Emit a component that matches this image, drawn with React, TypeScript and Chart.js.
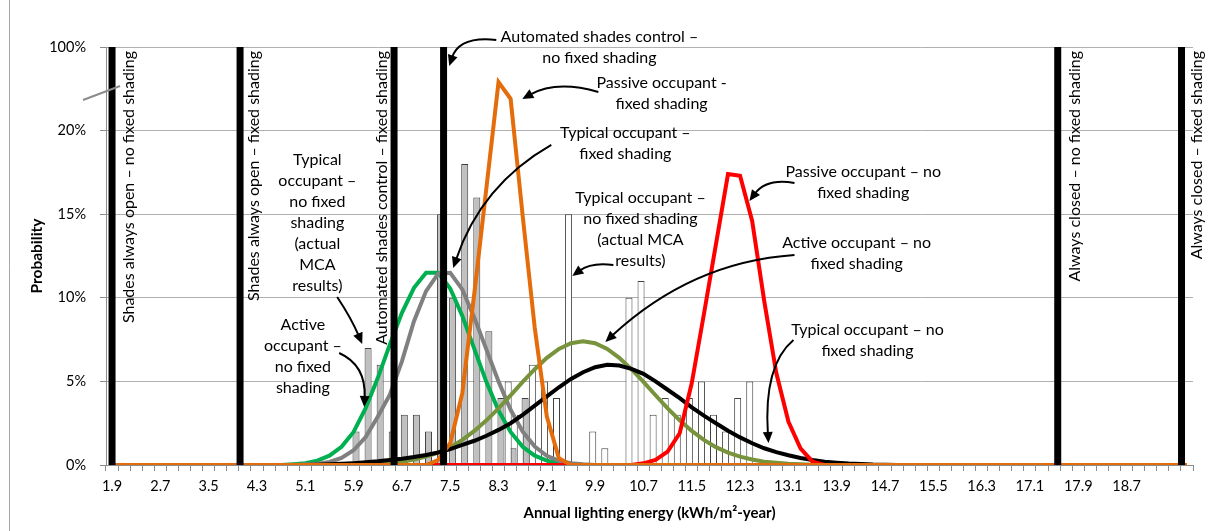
import React, { useEffect, useRef } from "react";
import { Chart, registerables } from "chart.js";

Chart.register(...registerables);

// ---------- DATA ----------
// Annual lighting energy bins (kWh/m²-year)
const energyBins = [
  "1.9", "2.1", "2.3", "2.5", "2.7", "2.9", "3.1", "3.3", "3.5", "3.7",
  "3.9", "4.1", "4.3", "4.5", "4.7", "4.9", "5.1", "5.3", "5.5", "5.7",
  "5.9", "6.1", "6.3", "6.5", "6.7", "6.9", "7.1", "7.3", "7.5", "7.7",
  "7.9", "8.1", "8.3", "8.5", "8.7", "8.9", "9.1", "9.3", "9.5", "9.7",
  "9.9", "10.1", "10.3", "10.5", "10.7", "10.9", "11.1", "11.3", "11.5", "11.7",
  "11.9", "12.1", "12.3", "12.5", "12.7", "12.9", "13.1", "13.3", "13.5", "13.7",
  "13.9", "14.1", "14.3", "14.5", "14.7", "14.9", "15.1", "15.3", "15.5", "15.7",
  "15.9", "16.1", "16.3", "16.5", "16.7", "16.9", "17.1", "17.3", "17.5", "17.7",
  "17.9", "18.1", "18.3", "18.5", "18.7", "18.9", "19.1", "19.3", "19.5", "19.7",
];
const xTickLabels = [
  "1.9", "2.7", "3.5", "4.3", "5.1", "5.9", "6.7", "7.5", "8.3", "9.1", "9.9",
  "10.7", "11.5", "12.3", "13.1", "13.9", "14.7", "15.5", "16.3", "17.1", "17.9", "18.7",
];
const yTickLabels = ["0%", "5%", "10%", "15%", "20%", "100%"];

// MCA histograms (probability, %)
const typicalFixedMcaStart = "5.9";
const typicalFixedMca = [2, 7, 6, 2, 3, 3, 2, 15, 10, 18, 16, 8, 4, 1, 4];
const typicalNoFixedMcaStart = "8.5";
const typicalNoFixedMca = [5, 3, 6, 5, 4, 15, 0, 2, 1, 0, 10, 11, 3, 4, 3, 4, 5, 3, 2, 4, 5];

// Fitted distributions (probability, %)
const activeFixedStart = "4.9"; // green
const activeFixed = [0.05, 0.11, 0.26, 0.56, 1.09, 1.98, 3.4, 5.2, 7.2, 9.1, 10.6, 11.5, 11.5, 10.56, 8.92, 6.93, 4.96, 3.26, 1.98, 1.09, 0.56, 0.26, 0.11, 0.05];
const typicalFixedStart = "5.1"; // gray
const typicalFixed = [0.03, 0.07, 0.18, 0.42, 0.88, 1.67, 2.89, 4.2, 6.2, 8.6, 10.4, 11.45, 11.5, 10.5, 8.8, 6.9, 5.0, 3.3, 2.0, 1.1, 0.55, 0.25, 0.1, 0.04];
const passiveFixedStart = "7.1"; // orange
const passiveFixed = [0, 0.3, 1.3, 4.3, 10.3, 16.6, 22.9, 21.9, 14.9, 8.2, 2.9, 0.4, 0];
const activeNoFixedStart = "5.5"; // olive
const activeNoFixed = [0.01, 0.01, 0.02, 0.04, 0.07, 0.13, 0.2, 0.33, 0.5, 0.74, 1.07, 1.5, 2.04, 2.67, 3.39, 4.17, 4.97, 5.73, 6.41, 6.94, 7.28, 7.4, 7.28, 6.94, 6.41, 5.73, 4.97, 4.17, 3.39, 2.67, 2.04, 1.5, 1.07, 0.74, 0.5, 0.33, 0.2, 0.13, 0.07, 0.04, 0.02];
const typicalNoFixedStart = "5.3"; // black
const typicalNoFixed = [0.02, 0.04, 0.07, 0.11, 0.16, 0.22, 0.3, 0.38, 0.48, 0.6, 0.75, 0.95, 1.2, 1.45, 1.75, 2.1, 2.5, 3.0, 3.55, 4.1, 4.65, 5.15, 5.55, 5.85, 6.0, 5.95, 5.75, 5.45, 5.0, 4.5, 4.0, 3.45, 2.95, 2.5, 2.05, 1.65, 1.3, 1.0, 0.77, 0.58, 0.42, 0.3, 0.2, 0.14, 0.09, 0.06, 0.03, 0.02];
const passiveNoFixedStart = "10.5"; // red
const passiveNoFixed = [0, 0.1, 0.3, 0.8, 1.9, 4.9, 9.0, 13.2, 17.4, 17.3, 14.6, 9.8, 5.5, 2.6, 1.0, 0.2, 0];

// Deterministic cases (100% probability)
const caseNames = [
  "Shades always open – no fixed shading",
  "Shades always open – fixed shading",
  "Automated shades control – fixed shading",
  "Automated shades control – no fixed shading",
  "Always closed – no fixed shading",
  "Always closed – fixed shading",
];
const caseEnergy = [1.9, 4.02, 6.57, 7.39, 17.56, 19.61];

// ---------- ANNOTATION LAYOUT (in data units) ----------
const caseLabelX = [2.18, 4.25, 6.36, null, 17.84, 19.86];
const caseLabelTop = 24.76;

const callouts = [
  { x: 9.97, y: 25.6, lines: ["Automated shades control –", "no fixed shading"] },
  { x: 11.0, y: 22.85, lines: ["Passive occupant -", "fixed shading"] },
  { x: 10.4, y: 19.86, lines: ["Typical occupant –", "fixed shading"] },
  { x: 5.3, y: 18.24, lines: ["Typical", "occupant –", "no fixed", "shading", "(actual", "MCA", "results)"] },
  { x: 5.06, y: 8.37, lines: ["Active", "occupant –", "no fixed", "shading"] },
  { x: 10.65, y: 15.97, lines: ["Typical occupant –", "no fixed shading", "(actual MCA", "results)"] },
  { x: 14.34, y: 17.52, lines: ["Passive occupant – no", "fixed shading"] },
  { x: 14.23, y: 13.28, lines: ["Active occupant – no", "fixed shading"] },
  { x: 14.41, y: 8.07, lines: ["Typical occupant – no", "fixed shading"] },
];

const arrows = [
  { from: [8.263, 25.42], ctrl: [7.65, 25.66], to: [7.484, 23.86] },
  { from: [9.953, 22.31], ctrl: [9.257, 23.03], to: [8.694, 21.89] },
  { from: [9.174, 19.14], ctrl: [8.014, 16.75], to: [7.55, 11.78] },
  { from: [5.628, 10.05], ctrl: [5.86, 8.79], to: [6.043, 7.24] },
  { from: [5.661, 6.7], ctrl: [6.109, 5.98], to: [6.076, 3.47] },
  { from: [10.202, 11.96], ctrl: [9.837, 12.14], to: [9.522, 11.3] },
  { from: [13.201, 16.87], ctrl: [12.737, 17.17], to: [12.455, 15.79] },
  { from: [13.201, 12.56], ctrl: [11.494, 12.14], to: [10.069, 7.36] },
  { from: [13.184, 7.48], ctrl: [12.687, 5.98], to: [12.77, 1.32] },
];

const FONT = "Lato, 'Open Sans', sans-serif";

// ---------- HELPERS ----------
function fullCurve(start: string, values: number[]) {
  const s = energyBins.indexOf(start);
  return energyBins.map((b, i) => ({
    x: parseFloat(b),
    y: i >= s && i < s + values.length ? values[i - s] : 0,
  }));
}
function barPoints(start: string, values: number[]) {
  const s = energyBins.indexOf(start);
  return values
    .map((v, i) => ({ x: parseFloat(energyBins[s + i]), y: v }))
    .filter((p) => p.y > 0);
}

const calloutPlugin = {
  id: "callouts",
  afterDatasetsDraw(chart: any) {
    const { ctx } = chart;
    const xs = chart.scales.x;
    const ys = chart.scales.y;
    const X = (v: number) => xs.getPixelForValue(v);
    const Y = (p: number) => ys.getPixelForValue(p);
    ctx.save();

    // outer frame edge on the left
    ctx.strokeStyle = "#a6a6a6";
    ctx.lineWidth = 1;
    ctx.beginPath();
    ctx.moveTo(9.5, 0);
    ctx.lineTo(9.5, chart.height);
    ctx.stroke();

    // stray grey connector near the top-left
    ctx.strokeStyle = "#8c8c8c";
    ctx.lineWidth = 2;
    ctx.beginPath();
    ctx.moveTo(X(1.42), Y(21.83));
    ctx.lineTo(X(2.033), Y(22.67));
    ctx.stroke();

    ctx.fillStyle = "#000";
    ctx.font = `16px ${FONT}`;

    // rotated labels next to the deterministic cases
    caseLabelX.forEach((lx, i) => {
      if (lx === null) return;
      ctx.save();
      ctx.translate(X(lx), Y(caseLabelTop));
      ctx.rotate(-Math.PI / 2);
      ctx.textAlign = "right";
      ctx.textBaseline = "middle";
      ctx.fillText(caseNames[i], 0, 0);
      ctx.restore();
    });

    // text callouts
    ctx.textAlign = "center";
    ctx.textBaseline = "middle";
    callouts.forEach((c) => {
      c.lines.forEach((line, i) => {
        ctx.fillText(line, X(c.x), Y(c.y) + i * 21);
      });
    });

    // arrows
    ctx.strokeStyle = "#000";
    ctx.fillStyle = "#000";
    ctx.lineWidth = 2;
    arrows.forEach((a) => {
      const x0 = X(a.from[0]), y0 = Y(a.from[1]);
      const cx = X(a.ctrl[0]), cy = Y(a.ctrl[1]);
      const x1 = X(a.to[0]), y1 = Y(a.to[1]);
      const ang = Math.atan2(y1 - cy, x1 - cx);
      const L = 11, W = 5;
      const bx = x1 - (L - 2) * Math.cos(ang);
      const by = y1 - (L - 2) * Math.sin(ang);
      ctx.beginPath();
      ctx.moveTo(x0, y0);
      ctx.quadraticCurveTo(cx, cy, bx, by);
      ctx.stroke();
      ctx.beginPath();
      ctx.moveTo(x1, y1);
      ctx.lineTo(x1 - L * Math.cos(ang) + W * Math.sin(ang), y1 - L * Math.sin(ang) - W * Math.cos(ang));
      ctx.lineTo(x1 - L * Math.cos(ang) - W * Math.sin(ang), y1 - L * Math.sin(ang) + W * Math.cos(ang));
      ctx.closePath();
      ctx.fill();
    });

    ctx.restore();
  },
};

export default function App() {
  const canvasRef = useRef<HTMLCanvasElement | null>(null);

  useEffect(() => {
    document.body.style.margin = "0";
    const canvas = canvasRef.current;
    if (!canvas) return;

    const curve = (data: any, color: string, order: number, width = 4) => ({
      type: "line",
      data,
      borderColor: color,
      borderWidth: width,
      pointRadius: 0,
      fill: false,
      tension: 0,
      order,
    });

    const datasets: any[] = [
      ...caseEnergy.map((e) => ({
        type: "line",
        data: [
          { x: e, y: 0 },
          { x: e, y: 25 },
        ],
        borderColor: "#000",
        borderWidth: 7,
        pointRadius: 0,
        fill: false,
        order: 1,
      })),
      curve(fullCurve(passiveFixedStart, passiveFixed), "#e46c0a", 2),
      curve(fullCurve(passiveNoFixedStart, passiveNoFixed), "#ff0000", 3),
      curve(fullCurve(typicalNoFixedStart, typicalNoFixed), "#000000", 4),
      curve(fullCurve(activeNoFixedStart, activeNoFixed), "#77933c", 5),
      curve(fullCurve(typicalFixedStart, typicalFixed), "#808080", 6),
      curve(fullCurve(activeFixedStart, activeFixed), "#00b050", 7),
      {
        type: "bar",
        data: barPoints(typicalNoFixedMcaStart, typicalNoFixedMca),
        backgroundColor: "#ffffff",
        borderColor: "#404040",
        borderWidth: 1,
        categoryPercentage: 0.8,
        barPercentage: 1.45,
        order: 8,
      },
      {
        type: "bar",
        data: barPoints(typicalFixedMcaStart, typicalFixedMca),
        backgroundColor: "#c0c0c0",
        borderColor: "#404040",
        borderWidth: 1,
        categoryPercentage: 0.8,
        barPercentage: 1.45,
        order: 9,
      },
    ];

    const chart = new Chart(canvas, {
      type: "line",
      data: { datasets },
      options: {
        animation: false,
        responsive: false,
        devicePixelRatio: 1,
        layout: { padding: { top: 47, right: 18, left: 0, bottom: 0 } },
        plugins: { legend: { display: false }, tooltip: { enabled: false } },
        scales: {
          x: {
            type: "linear",
            min: 1.8,
            max: 19.8,
            offset: false,
            afterBuildTicks: (s: any) => {
              s.ticks = energyBins.map((b) => ({ value: parseFloat(b) }));
            },
            afterFit: (s: any) => {
              s.height = 66;
            },
            ticks: {
              autoSkip: false,
              maxRotation: 0,
              minRotation: 0,
              padding: 7,
              color: "#000",
              font: { family: FONT, size: 14.5 },
              callback: (_v: any, i: number) =>
                xTickLabels.includes(energyBins[i]) ? energyBins[i] : "",
            },
            grid: {
              offset: true,
              drawOnChartArea: false,
              drawTicks: true,
              tickLength: 6,
              color: "#8c8c8c",
            },
            border: { display: true, color: "#8c8c8c" },
            title: {
              display: true,
              text: "Annual lighting energy (kWh/m²-year)",
              color: "#000",
              font: { family: FONT, size: 15, weight: "bold" },
              padding: { top: 0, bottom: 9 },
            },
          },
          y: {
            min: 0,
            max: 25,
            afterFit: (s: any) => {
              s.width = 106;
            },
            ticks: {
              stepSize: 5,
              padding: 14,
              color: "#000",
              font: { family: FONT, size: 14.5 },
              callback: (_v: any, i: number) => yTickLabels[i],
            },
            grid: { color: "#b0b0b0", tickLength: 6, tickColor: "#8c8c8c" },
            border: { display: true, color: "#8c8c8c" },
            title: {
              display: true,
              text: "Probability",
              color: "#000",
              font: { family: FONT, size: 15.5, weight: "bold" },
              padding: { top: 28, bottom: 0 },
            },
          },
        },
      } as any,
      plugins: [calloutPlugin],
    } as any);

    return () => chart.destroy();
  }, []);

  return (
    <div style={{ width: 1211, height: 531 }}>
      <canvas ref={canvasRef} width={1211} height={531} style={{ display: "block" }} />
    </div>
  );
}
